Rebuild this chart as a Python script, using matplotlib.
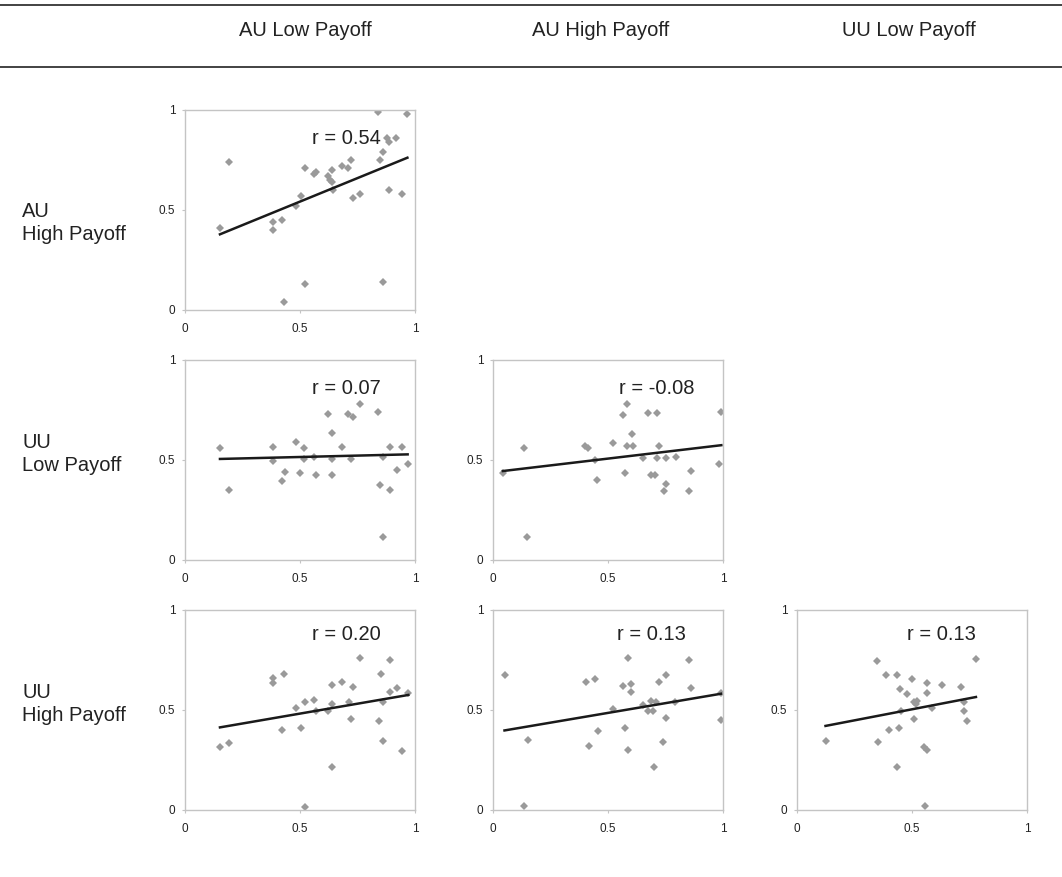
import numpy as np
import matplotlib.pyplot as plt

plt.rcParams['font.family'] = ['Liberation Sans', 'DejaVu Sans']

col_labels = ['AU Low Payoff', 'AU High Payoff', 'UU Low Payoff']
row_labels = ['AU\nHigh Payoff', 'UU\nLow Payoff', 'UU\nHigh Payoff']

# AU High (y) vs AU Low (x)
p1_x = [0.152, 0.193, 0.381, 0.381, 0.422, 0.432, 0.481, 0.503, 0.52, 0.52, 0.561, 0.57,
        0.623, 0.63, 0.638, 0.641, 0.642, 0.681, 0.707, 0.722, 0.729, 0.761, 0.841, 0.848,
        0.859, 0.859, 0.877, 0.888, 0.888, 0.917, 0.942, 0.967]
p1_y = [0.41, 0.74, 0.44, 0.40, 0.45, 0.04, 0.52, 0.57, 0.71, 0.13, 0.68, 0.69,
        0.67, 0.65, 0.70, 0.64, 0.60, 0.72, 0.71, 0.75, 0.56, 0.58, 0.99, 0.75,
        0.79, 0.14, 0.86, 0.84, 0.60, 0.86, 0.58, 0.98]

# UU Low vs AU Low
p2_x = [0.152, 0.193, 0.384, 0.384, 0.422, 0.433, 0.483, 0.50, 0.517, 0.517, 0.561, 0.568,
        0.62, 0.641, 0.641, 0.641, 0.681, 0.71, 0.72, 0.732, 0.761, 0.841, 0.848, 0.859,
        0.859, 0.891, 0.891, 0.92, 0.942, 0.968]
p2_y = [0.558, 0.35, 0.567, 0.495, 0.397, 0.438, 0.59, 0.437, 0.558, 0.505, 0.517, 0.425,
        0.73, 0.633, 0.505, 0.425, 0.567, 0.73, 0.505, 0.717, 0.78, 0.74, 0.375, 0.517,
        0.117, 0.567, 0.35, 0.45, 0.567, 0.48]

# UU Low vs AU High
p3_x = [0.043, 0.136, 0.147, 0.40, 0.415, 0.444, 0.451, 0.523, 0.564, 0.574, 0.584, 0.581,
        0.605, 0.607, 0.653, 0.672, 0.686, 0.704, 0.714, 0.714, 0.723, 0.744, 0.754, 0.754,
        0.795, 0.853, 0.861, 0.983, 0.993]
p3_y = [0.437, 0.562, 0.117, 0.57, 0.562, 0.50, 0.40, 0.587, 0.723, 0.437, 0.78, 0.57,
        0.628, 0.57, 0.508, 0.733, 0.425, 0.425, 0.733, 0.508, 0.57, 0.347, 0.38, 0.508,
        0.517, 0.347, 0.447, 0.478, 0.742]

# UU High vs AU Low
p4_x = [0.152, 0.193, 0.381, 0.381, 0.432, 0.422, 0.481, 0.503, 0.52, 0.52, 0.561, 0.57,
        0.623, 0.641, 0.641, 0.641, 0.681, 0.713, 0.72, 0.729, 0.761, 0.843, 0.851, 0.859,
        0.859, 0.891, 0.891, 0.92, 0.945, 0.971]
p4_y = [0.313, 0.337, 0.658, 0.637, 0.68, 0.40, 0.508, 0.408, 0.542, 0.017, 0.55, 0.495,
        0.495, 0.625, 0.53, 0.217, 0.638, 0.542, 0.455, 0.617, 0.758, 0.445, 0.68, 0.542,
        0.347, 0.75, 0.588, 0.608, 0.297, 0.583]

# UU High vs AU High
p5_x = [0.05, 0.15, 0.136, 0.405, 0.417, 0.443, 0.456, 0.522, 0.566, 0.573, 0.585, 0.585,
        0.602, 0.602, 0.65, 0.675, 0.685, 0.694, 0.701, 0.708, 0.723, 0.741, 0.752, 0.752,
        0.792, 0.853, 0.86, 0.991, 0.991]
p5_y = [0.675, 0.35, 0.02, 0.638, 0.32, 0.655, 0.397, 0.505, 0.62, 0.408, 0.762, 0.30,
        0.63, 0.588, 0.525, 0.497, 0.547, 0.497, 0.217, 0.538, 0.638, 0.342, 0.675, 0.458,
        0.538, 0.75, 0.608, 0.45, 0.585]

# UU High vs UU Low
p6_x = [0.124, 0.346, 0.352, 0.388, 0.40, 0.433, 0.433, 0.443, 0.448, 0.45, 0.48, 0.50,
        0.509, 0.509, 0.516, 0.52, 0.554, 0.564, 0.557, 0.567, 0.567, 0.589, 0.629, 0.714,
        0.728, 0.728, 0.738, 0.778]
p6_y = [0.347, 0.745, 0.338, 0.675, 0.40, 0.675, 0.217, 0.408, 0.603, 0.495, 0.58, 0.655,
        0.542, 0.455, 0.528, 0.545, 0.317, 0.30, 0.02, 0.637, 0.583, 0.508, 0.625, 0.617,
        0.542, 0.497, 0.445, 0.755]

r_labels = ['r = 0.54', 'r = 0.07', 'r = -0.08', 'r = 0.20', 'r = 0.13', 'r = 0.13']
slopes = [0.47, 0.028, 0.136, 0.198, 0.195, 0.221]
intercepts = [0.307, 0.501, 0.439, 0.383, 0.388, 0.393]

panels = [(0, 0, p1_x, p1_y), (1, 0, p2_x, p2_y), (1, 1, p3_x, p3_y),
          (2, 0, p4_x, p4_y), (2, 1, p5_x, p5_y), (2, 2, p6_x, p6_y)]

W, H = 1062, 877
fig = plt.figure(figsize=(W / 100, H / 100), dpi=100)

col_left = [185, 493, 797]
row_top = [110, 360, 610]
aw, ah = 230, 200
r_xpos = [0.70, 0.70, 0.71, 0.70, 0.69, 0.63]

# header lines and labels
fig.add_artist(plt.Line2D([0, 1], [1 - 5 / H, 1 - 5 / H], color='#222222', lw=1.2))
fig.add_artist(plt.Line2D([0, 1], [1 - 67 / H, 1 - 67 / H], color='#222222', lw=1.2))
for cx, lab in zip([305, 601, 909], col_labels):
    fig.text(cx / W, 1 - 31 / H, lab, ha='center', va='center', fontsize=14.5, color='#222222')
for ry, lab in zip([223, 454, 704], row_labels):
    fig.text(22 / W, 1 - ry / H, lab, ha='left', va='center', fontsize=14.5, color='#222222',
             linespacing=1.25)

for i, (r, c, x, y) in enumerate(panels):
    ax = fig.add_axes([col_left[c] / W, 1 - (row_top[r] + ah) / H, aw / W, ah / H])
    ax.plot(x, y, 'D', color='#9a9a9a', markersize=4, markeredgewidth=0)
    xs = np.array([min(x), max(x)])
    ax.plot(xs, intercepts[i] + slopes[i] * xs, color='#1a1a1a', lw=1.8)
    ax.text(r_xpos[i], 0.86 if r < 2 else 0.88, r_labels[i], transform=ax.transAxes,
            ha='center', va='center', fontsize=14.5, color='#222222')
    ax.set_xlim(0, 1)
    ax.set_ylim(0, 1)
    ax.set_xticks([0, 0.5, 1])
    ax.set_yticks([0, 0.5, 1])
    ax.set_xticklabels(['0', '0.5', '1'])
    ax.set_yticklabels(['0', '0.5', '1'])
    for s in ax.spines.values():
        s.set_color('#c4c4c4')
        s.set_linewidth(1.0)
    ax.tick_params(axis='both', length=2, color='#c4c4c4', labelsize=8.5, labelcolor='#222222')
    ax.tick_params(axis='x', pad=7)
    ax.tick_params(axis='y', pad=5)

fig.savefig('out.png', dpi=100)
